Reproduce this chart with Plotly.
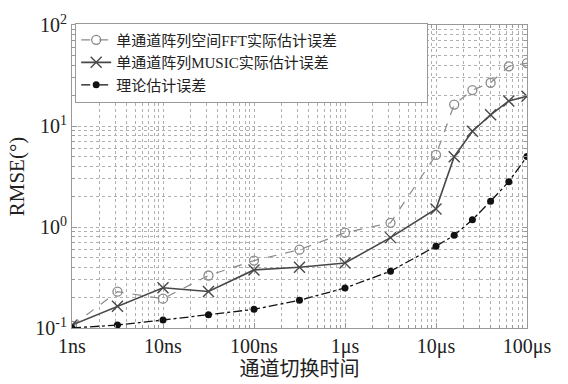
import plotly.graph_objects as go

# x: channel switching time in ns
switch_time_ns = [1, 3.16, 10, 31.6, 100, 316, 1000, 3162, 10000, 15849, 25119, 39811, 63096, 100000]
fft_rmse = [0.105, 0.229, 0.195, 0.331, 0.465, 0.596, 0.879, 1.10, 5.17, 16.3, 22.7, 26.8, 39.0, 42.0]
music_rmse = [0.107, 0.164, 0.25, 0.23, 0.376, 0.40, 0.44, 0.785, 1.51, 4.97, 8.87, 12.9, 17.7, 19.7]
theory_rmse = [0.100, 0.107, 0.12, 0.135, 0.153, 0.188, 0.249, 0.365, 0.645, 0.828, 1.18, 1.80, 2.81, 5.0]

series_names = ["单通道阵列空间FFT实际估计误差", "单通道阵列MUSIC实际估计误差", "理论估计误差"]
x_tickvals = [1, 10, 100, 1000, 10000, 100000]
x_ticktext = ["1ns", "10ns", "100ns", "1μs", "10μs", "100μs"]
y_tickvals = [0.1, 1, 10, 100]
y_ticktext = ["10<sup>-1</sup>", "10<sup>0</sup>", "10<sup>1</sup>", "10<sup>2</sup>"]

FONT = "Liberation Serif, 'Times New Roman', 'Noto Sans CJK SC', serif"

fig = go.Figure()
fig.add_trace(go.Scatter(
    x=switch_time_ns, y=fft_rmse, name=series_names[0], mode="lines+markers",
    line=dict(color="#8a8a8a", width=1.2, dash="dash"),
    marker=dict(symbol="circle-open", size=9, color="#8a8a8a", line=dict(width=1.3)),
))
fig.add_trace(go.Scatter(
    x=switch_time_ns, y=music_rmse, name=series_names[1], mode="lines+markers",
    line=dict(color="#484848", width=1.6),
    marker=dict(symbol="x-thin-open", size=11, color="#484848", line=dict(width=1.4, color="#484848")),
))
fig.add_trace(go.Scatter(
    x=switch_time_ns, y=theory_rmse, name=series_names[2], mode="lines+markers",
    line=dict(color="#111111", width=1.3, dash="dashdot"),
    marker=dict(symbol="circle", size=7, color="#111111"),
))

grid = dict(showgrid=True, gridcolor="#b0b0b0", griddash="dot", gridwidth=1)
fig.update_xaxes(
    type="log", range=[0, 5], tickvals=x_tickvals, ticktext=x_ticktext,
    ticks="inside", ticklen=5, tickcolor="#999", mirror="ticks", showline=True, linecolor="#999", linewidth=1,
    tickfont=dict(family=FONT, size=20, color="#222"),
    title=dict(text="通道切换时间", font=dict(family=FONT, size=20, color="#222"), standoff=0),
    minor=dict(dtick="D1", ticks="inside", ticklen=3, tickcolor="#999", **grid),
    **grid,
)
fig.update_yaxes(
    type="log", range=[-1, 2], tickvals=y_tickvals, ticktext=y_ticktext,
    ticks="inside", ticklen=5, tickcolor="#999", mirror="ticks", showline=True, linecolor="#999", linewidth=1,
    tickfont=dict(family=FONT, size=20, color="#222"),
    title=dict(text="RMSE(°)", font=dict(family=FONT, size=21, color="#222"), standoff=4),
    minor=dict(dtick="D1", ticks="inside", ticklen=3, tickcolor="#999", **grid),
    **grid,
)
fig.update_layout(
    width=568, height=384,
    margin=dict(l=72, r=41, t=22, b=55),
    plot_bgcolor="white", paper_bgcolor="white",
    font=dict(family=FONT, color="#222"),
    showlegend=True,
    legend=dict(
        orientation="h", entrywidth=306, entrywidthmode="pixels",
        x=0.007, y=1.008, xanchor="left", yanchor="top",
        bgcolor="#ffffff", bordercolor="#999", borderwidth=1,
        font=dict(family=FONT, size=15, color="#222"),
        itemwidth=30, tracegroupgap=0,
    ),
)
fig.write_html("out.html")
